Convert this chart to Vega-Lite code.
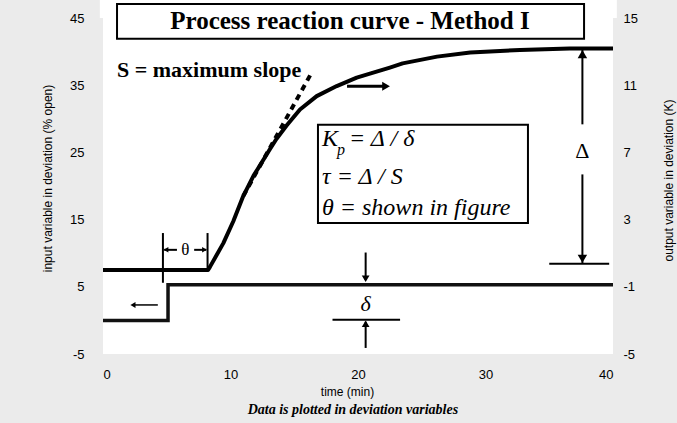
{
  "$schema": "https://vega.github.io/schema/vega-lite/v6.json",
  "width": 510,
  "height": 336,
  "autosize": {"type": "none"},
  "padding": {"left": 103, "top": 18, "right": 64, "bottom": 69},
  "background": "#ebebeb",
  "config": {
    "view": {"fill": "white", "stroke": null},
    "axis": {
      "grid": false, "domain": false, "ticks": false, "tickSize": 0,
      "labelFont": "Liberation Sans", "labelFontSize": 13, "labelColor": "black",
      "labelExpr": "replace(datum.label, '\u2212', '-')",
      "titleFont": "Liberation Sans", "titleFontSize": 12, "titleFontWeight": "normal", "titleColor": "black"
    }
  },
  "datasets": {
    "input": [
      {"t": 0, "v": 0, "i": 0},
      {"t": 5.1, "v": 0, "i": 1},
      {"t": 5.1, "v": 5.3, "i": 2},
      {"t": 40, "v": 5.3, "i": 3}
    ],
    "output": [
      {"t": 0, "v": 0}, {"t": 8.24, "v": 0}, {"t": 8.4, "v": 0.2}, {"t": 9.44, "v": 1.6},
      {"t": 10.22, "v": 2.9}, {"t": 11.0, "v": 4.4}, {"t": 11.8, "v": 5.6}, {"t": 12.45, "v": 6.4},
      {"t": 13.1, "v": 7.2}, {"t": 13.6, "v": 7.8}, {"t": 14.4, "v": 8.6}, {"t": 15.45, "v": 9.55},
      {"t": 16.76, "v": 10.35}, {"t": 18.33, "v": 10.95}, {"t": 19.9, "v": 11.45}, {"t": 21.0, "v": 11.7},
      {"t": 22.5, "v": 12.05}, {"t": 23.5, "v": 12.3}, {"t": 26.2, "v": 12.7}, {"t": 28.8, "v": 12.95},
      {"t": 32.7, "v": 13.1}, {"t": 36.6, "v": 13.18}, {"t": 40, "v": 13.18}
    ]
  },
  "encoding": {
    "x": {
      "field": "t", "type": "quantitative",
      "scale": {"domain": [0, 40], "nice": false, "zero": false},
      "axis": {"values": [0, 10, 20, 30, 40], "title": "time (min)", "labelPadding": 14,
               "titleX": 244, "titleY": 37, "titleBaseline": "middle"}
    }
  },
  "layer": [
    {
      "data": {"values": [{"t": -0.25, "t2": 40.3, "v": 45, "v2": 47.8}]},
      "mark": {"type": "rect", "fill": "white", "stroke": null},
      "encoding": {
        "x2": {"field": "t2"},
        "y": {"field": "v", "type": "quantitative", "scale": {"domain": [-5, 45], "nice": false, "zero": false}, "axis": null},
        "y2": {"field": "v2"}
      }
    },
    {
      "data": {"name": "input"},
      "mark": {"type": "line", "color": "#111", "strokeWidth": 3.5, "strokeJoin": "miter"},
      "encoding": {
        "y": {"field": "v", "type": "quantitative", "scale": {"domain": [-5, 45], "nice": false, "zero": false},
              "axis": {"orient": "left", "values": [-5, 5, 15, 25, 35, 45], "labelPadding": 19,
                       "title": "input variable in deviation (% open)", "titleAngle": 270,
                       "titleX": -56, "titleY": 160, "titleAlign": "center", "titleBaseline": "middle"}},
        "order": {"field": "i", "type": "quantitative"}
      }
    },
    {
      "data": {"name": "output"},
      "mark": {"type": "line", "color": "black", "strokeWidth": 4, "strokeJoin": "round"},
      "encoding": {
        "y": {"field": "v", "type": "quantitative", "scale": {"domain": [-5, 15], "nice": false, "zero": false},
              "axis": {"orient": "right", "values": [-5, -1, 3, 7, 11, 15], "labelPadding": 10,
                       "title": "output variable in deviation (K)", "titleAngle": 270,
                       "titleX": 55, "titleY": 162, "titleAlign": "center", "titleBaseline": "middle"}}
      }
    },
    {
      "data": {"values": [
        {"t": 1.1, "t2": 37.73, "v": 41.9, "v2": 47.1},
        {"t": 16.86, "t2": 33.33, "v": 14.5, "v2": 29.1}
      ]},
      "mark": {"type": "rect", "fill": "white", "stroke": "black", "strokeWidth": 2},
      "encoding": {
        "x2": {"field": "t2"},
        "y": {"field": "v", "type": "quantitative", "scale": {"domain": [-5, 45], "nice": false, "zero": false}, "axis": null},
        "y2": {"field": "v2"}
      }
    },
    {
      "data": {"values": [
        {"t": 2.35, "t2": 4.3, "v": 2.3, "v2": 2.3}
      ]},
      "mark": {"type": "rule", "color": "black", "strokeWidth": 1.5},
      "encoding": {
        "x2": {"field": "t2"},
        "y": {"field": "v", "type": "quantitative", "scale": {"domain": [-5, 45], "nice": false, "zero": false}, "axis": null},
        "y2": {"field": "v2"}
      }
    },
    {
      "data": {"values": [
        {"t": 4.7, "t2": 4.7, "v": 13.0, "v2": 5.6},
        {"t": 8.2, "t2": 8.2, "v": 13.0, "v2": 7.5},
        {"t": 4.8, "t2": 5.8, "v": 10.5, "v2": 10.5},
        {"t": 7.15, "t2": 8.1, "v": 10.5, "v2": 10.5},
        {"t": 20.6, "t2": 20.6, "v": 10.1, "v2": 6.0},
        {"t": 18.0, "t2": 23.3, "v": 0.09, "v2": 0.09},
        {"t": 20.6, "t2": 20.6, "v": -4.1, "v2": -0.2}
      ]},
      "mark": {"type": "rule", "color": "black", "strokeWidth": 2},
      "encoding": {
        "x2": {"field": "t2"},
        "y": {"field": "v", "type": "quantitative", "scale": {"domain": [-5, 45], "nice": false, "zero": false}, "axis": null},
        "y2": {"field": "v2"}
      }
    },
    {
      "data": {"values": [{"t": 2.35, "v": 2.3}]},
      "mark": {"type": "point", "shape": "triangle-left", "filled": true, "color": "black", "size": 35, "opacity": 1},
      "encoding": {
        "y": {"field": "v", "type": "quantitative", "scale": {"domain": [-5, 45], "nice": false, "zero": false}, "axis": null}
      }
    },
    {
      "data": {"values": [{"t": 4.94, "v": 10.5}]},
      "mark": {"type": "point", "shape": "triangle-left", "filled": true, "color": "black", "size": 30, "opacity": 1},
      "encoding": {
        "y": {"field": "v", "type": "quantitative", "scale": {"domain": [-5, 45], "nice": false, "zero": false}, "axis": null}
      }
    },
    {
      "data": {"values": [{"t": 7.96, "v": 10.5}]},
      "mark": {"type": "point", "shape": "triangle-right", "filled": true, "color": "black", "size": 30, "opacity": 1},
      "encoding": {
        "y": {"field": "v", "type": "quantitative", "scale": {"domain": [-5, 45], "nice": false, "zero": false}, "axis": null}
      }
    },
    {
      "data": {"values": [{"t": 20.6, "v": 6.2}]},
      "mark": {"type": "point", "shape": "triangle-down", "filled": true, "color": "black", "size": 60, "opacity": 1},
      "encoding": {
        "y": {"field": "v", "type": "quantitative", "scale": {"domain": [-5, 45], "nice": false, "zero": false}, "axis": null}
      }
    },
    {
      "data": {"values": [{"t": 20.6, "v": -0.5}]},
      "mark": {"type": "point", "shape": "triangle-up", "filled": true, "color": "black", "size": 60, "opacity": 1},
      "encoding": {
        "y": {"field": "v", "type": "quantitative", "scale": {"domain": [-5, 45], "nice": false, "zero": false}, "axis": null}
      }
    },
    {
      "data": {"values": [{"t": 19.37, "v": 44.5, "label": "Process reaction curve - Method I"}]},
      "mark": {"type": "text", "font": "Liberation Serif", "fontWeight": "bold", "fontSize": 25, "align": "center", "baseline": "middle", "color": "black"},
      "encoding": {
        "y": {"field": "v", "type": "quantitative", "scale": {"domain": [-5, 45], "nice": false, "zero": false}, "axis": null},
        "text": {"field": "label"}
      }
    },
    {
      "data": {"values": [{"t": 1.1, "v": 37.3, "label": "S = maximum slope"}]},
      "mark": {"type": "text", "font": "Liberation Serif", "fontWeight": "bold", "fontSize": 22, "align": "left", "baseline": "middle", "color": "black"},
      "encoding": {
        "y": {"field": "v", "type": "quantitative", "scale": {"domain": [-5, 45], "nice": false, "zero": false}, "axis": null},
        "text": {"field": "label"}
      }
    },
    {
      "data": {"values": [
        {"t": 17.18, "v": 27.0, "label": "K"},
        {"t": 19.3, "v": 27.0, "label": "= Δ / δ"},
        {"t": 17.18, "v": 21.4, "label": "τ = Δ / S"},
        {"t": 17.18, "v": 16.8, "label": "θ = shown in figure"}
      ]},
      "mark": {"type": "text", "font": "Liberation Serif", "fontStyle": "italic", "fontSize": 24, "align": "left", "baseline": "middle", "color": "black"},
      "encoding": {
        "y": {"field": "v", "type": "quantitative", "scale": {"domain": [-5, 45], "nice": false, "zero": false}, "axis": null},
        "text": {"field": "label"}
      }
    },
    {
      "data": {"values": [{"t": 18.35, "v": 25.4, "label": "p"}]},
      "mark": {"type": "text", "font": "Liberation Serif", "fontStyle": "italic", "fontSize": 16, "align": "left", "baseline": "middle", "color": "black"},
      "encoding": {
        "y": {"field": "v", "type": "quantitative", "scale": {"domain": [-5, 45], "nice": false, "zero": false}, "axis": null},
        "text": {"field": "label"}
      }
    },
    {
      "data": {"values": [{"t": 6.45, "v": 10.5, "label": "θ"}]},
      "mark": {"type": "text", "font": "Liberation Serif", "fontSize": 17, "align": "center", "baseline": "middle", "color": "black"},
      "encoding": {
        "y": {"field": "v", "type": "quantitative", "scale": {"domain": [-5, 45], "nice": false, "zero": false}, "axis": null},
        "text": {"field": "label"}
      }
    },
    {
      "data": {"values": [{"t": 20.6, "v": 2.4, "label": "δ"}]},
      "mark": {"type": "text", "font": "Liberation Serif", "fontStyle": "italic", "fontSize": 22, "align": "center", "baseline": "middle", "color": "black"},
      "encoding": {
        "y": {"field": "v", "type": "quantitative", "scale": {"domain": [-5, 45], "nice": false, "zero": false}, "axis": null},
        "text": {"field": "label"}
      }
    },
    {
      "data": {"values": [{"t": 19.6, "v": -13.3, "label": "Data is plotted in deviation variables"}]},
      "mark": {"type": "text", "font": "Liberation Serif", "fontStyle": "italic", "fontWeight": "bold", "fontSize": 14, "align": "center", "baseline": "middle", "color": "black"},
      "encoding": {
        "y": {"field": "v", "type": "quantitative", "scale": {"domain": [-5, 45], "nice": false, "zero": false}, "axis": null},
        "text": {"field": "label"}
      }
    },
    {
      "data": {"values": [{"t": 11.0, "t2": 16.4, "v": 4.4, "v2": 11.8}]},
      "mark": {"type": "rule", "color": "black", "strokeWidth": 4, "strokeDash": [6, 5]},
      "encoding": {
        "x2": {"field": "t2"},
        "y": {"field": "v", "type": "quantitative", "scale": {"domain": [-5, 15], "nice": false, "zero": false}, "axis": null},
        "y2": {"field": "v2"}
      }
    },
    {
      "data": {"values": [
        {"t": 19.14, "t2": 22.0, "v": 10.94, "v2": 10.94}
      ]},
      "mark": {"type": "rule", "color": "black", "strokeWidth": 3},
      "encoding": {
        "x2": {"field": "t2"},
        "y": {"field": "v", "type": "quantitative", "scale": {"domain": [-5, 15], "nice": false, "zero": false}, "axis": null},
        "y2": {"field": "v2"}
      }
    },
    {
      "data": {"values": [
        {"t": 37.6, "t2": 37.6, "v": 13.15, "v2": 8.67},
        {"t": 37.6, "t2": 37.6, "v": 5.69, "v2": 0.37},
        {"t": 35.0, "t2": 39.7, "v": 0.37, "v2": 0.37}
      ]},
      "mark": {"type": "rule", "color": "black", "strokeWidth": 2},
      "encoding": {
        "x2": {"field": "t2"},
        "y": {"field": "v", "type": "quantitative", "scale": {"domain": [-5, 15], "nice": false, "zero": false}, "axis": null},
        "y2": {"field": "v2"}
      }
    },
    {
      "data": {"values": [{"t": 22.2, "v": 10.94}]},
      "mark": {"type": "point", "shape": "triangle-right", "filled": true, "color": "black", "size": 80, "opacity": 1},
      "encoding": {
        "y": {"field": "v", "type": "quantitative", "scale": {"domain": [-5, 15], "nice": false, "zero": false}, "axis": null}
      }
    },
    {
      "data": {"values": [{"t": 37.6, "v": 12.85}]},
      "mark": {"type": "point", "shape": "triangle-up", "filled": true, "color": "black", "size": 90, "opacity": 1},
      "encoding": {
        "y": {"field": "v", "type": "quantitative", "scale": {"domain": [-5, 15], "nice": false, "zero": false}, "axis": null}
      }
    },
    {
      "data": {"values": [{"t": 37.6, "v": 0.67}]},
      "mark": {"type": "point", "shape": "triangle-down", "filled": true, "color": "black", "size": 90, "opacity": 1},
      "encoding": {
        "y": {"field": "v", "type": "quantitative", "scale": {"domain": [-5, 15], "nice": false, "zero": false}, "axis": null}
      }
    },
    {
      "data": {"values": [{"t": 37.6, "v": 7.06, "label": "Δ"}]},
      "mark": {"type": "text", "font": "Liberation Serif", "fontSize": 22, "align": "center", "baseline": "middle", "color": "black"},
      "encoding": {
        "y": {"field": "v", "type": "quantitative", "scale": {"domain": [-5, 15], "nice": false, "zero": false}, "axis": null},
        "text": {"field": "label"}
      }
    }
  ],
  "resolve": {"scale": {"y": "independent"}}
}
